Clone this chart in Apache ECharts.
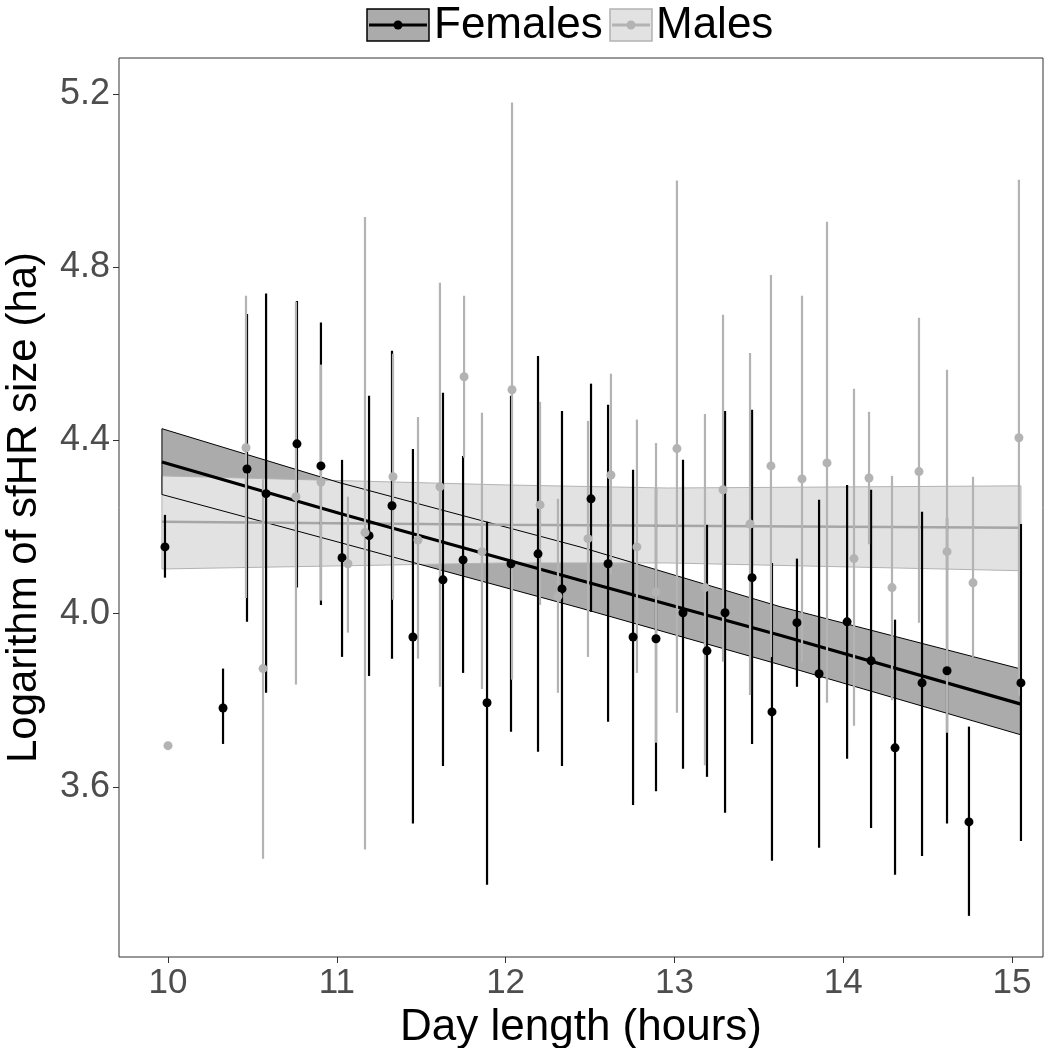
<!DOCTYPE html>
<html><head><meta charset="utf-8">
<script src="https://cdn.jsdelivr.net/npm/echarts@6/dist/echarts.min.js"></script>
<style>html,body{margin:0;padding:0;background:#fff}#c{width:1048px;height:1048px}</style>
</head><body><div id="c"></div>
<script>
// ---- Females (black) ----
const femaleX  = [9.982,10.326,10.468,10.581,10.764,10.906,11.031,11.191,11.327,11.451,11.629,11.748,11.890,12.032,12.192,12.334,12.506,12.607,12.755,12.891,13.051,13.193,13.300,13.460,13.578,13.726,13.857,14.023,14.165,14.307,14.467,14.615,14.745,15.053];
const femaleY  = [4.154,3.782,4.334,4.277,4.392,4.341,4.129,4.18,4.249,3.946,4.078,4.124,3.794,4.115,4.138,4.057,4.265,4.115,3.946,3.942,4.002,3.914,4.002,4.083,3.773,3.979,3.861,3.981,3.891,3.69,3.84,3.868,3.519,3.84];
const femaleLo = [4.083,3.699,3.981,3.817,4.06,4.02,3.9,3.856,3.896,3.515,3.648,3.863,3.374,3.727,3.681,3.648,4.004,3.75,3.558,3.59,3.642,3.623,3.54,3.699,3.429,3.831,3.459,3.665,3.505,3.397,3.44,3.515,3.302,3.475];
const femaleHi = [4.228,3.873,4.692,4.739,4.722,4.672,4.355,4.503,4.607,4.38,4.51,4.364,4.212,4.503,4.595,4.468,4.531,4.482,4.332,4.29,4.355,4.205,4.468,4.471,4.117,4.127,4.263,4.297,4.286,3.986,4.235,4.221,3.739,4.207];
// ---- Males (grey) ----
const maleX  = [10.0,10.462,10.563,10.758,10.906,11.066,11.167,11.333,11.481,11.611,11.754,11.860,12.038,12.204,12.310,12.488,12.624,12.778,12.891,13.015,13.181,13.288,13.448,13.572,13.756,13.904,14.064,14.153,14.289,14.449,14.615,14.769,15.041];
const maleY  = [3.695,4.383,3.873,4.27,4.304,4.115,4.187,4.316,4.17,4.293,4.547,4.143,4.517,4.251,4.04,4.173,4.32,4.154,4.05,4.381,4.06,4.286,4.207,4.341,4.311,4.348,4.127,4.313,4.06,4.328,4.143,4.071,4.406];
const maleLo = [3.695,4.036,3.434,3.836,4.03,3.956,3.455,4.032,3.896,3.831,4.36,3.826,3.847,4.02,3.817,3.9,4.09,3.863,3.702,3.771,3.65,3.889,3.812,3.9,3.888,3.794,3.741,4.16,3.8,3.979,3.725,3.9,3.81];
const maleHi = [3.695,4.734,4.31,4.72,4.575,4.27,4.916,4.60,4.454,4.764,4.734,4.464,5.18,4.489,4.265,4.445,4.554,4.448,4.394,5.0,4.461,4.69,4.602,4.782,4.734,4.905,4.519,4.466,4.318,4.683,4.563,4.316,5.002];
// ---- Fitted lines and confidence ribbons ----
const fitFX  = [9.964,11.019,12.441,13.626,15.053];
const fitF   = [4.350,4.231,4.077,3.950,3.791];
const fitFLo = [4.275,4.164,4.013,3.882,3.720];
const fitFHi = [4.427,4.302,4.154,4.016,3.872];
const fitMX  = [9.964,12.006,12.959,15.053];
const fitM   = [4.212,4.205,4.203,4.198];
const fitMLo = [4.103,4.117,4.117,4.099];
const fitMHi = [4.318,4.297,4.290,4.295];
// ---- ticks ----
const xTicks = [10,11,12,13,14,15];
const yTicks = [3.6,4.0,4.4,4.8,5.2];

const BLACK = '#000000', GREY = '#b3b3b3', DARKFILL = '#ababab', LIGHTFILL = '#e2e2e2';
const FONT = '"Liberation Sans", Arial, sans-serif';

function ribbon(xs, lo, hi, fill, stroke, z) {
  return {
    type: 'custom', z: z, silent: true, clip: true,
    data: [[xs[0], lo[0]]], encode: {x: 0, y: 1},
    renderItem: function (params, api) {
      const pts = [];
      for (let i = 0; i < xs.length; i++) pts.push(api.coord([xs[i], hi[i]]));
      for (let i = xs.length - 1; i >= 0; i--) pts.push(api.coord([xs[i], lo[i]]));
      return {type: 'polygon', shape: {points: pts},
        style: {fill: fill, stroke: stroke, lineWidth: 1}};
    }
  };
}
function bars(xs, lo, hi, color, z) {
  return {
    type: 'custom', z: z, silent: true, clip: true,
    data: xs.map((x, i) => [x, lo[i], hi[i]]), encode: {x: 0, y: [1, 2]},
    renderItem: function (params, api) {
      const a = api.coord([api.value(0), api.value(1)]);
      const b = api.coord([api.value(0), api.value(2)]);
      return {type: 'line', shape: {x1: a[0], y1: a[1], x2: b[0], y2: b[1]},
        style: {stroke: color, lineWidth: 2.2}};
    }
  };
}
function line(xs, ys, color, w, z) {
  return {type: 'line', z: z, silent: true, showSymbol: false, symbol: 'none',
    data: xs.map((x, i) => [x, ys[i]]), lineStyle: {color: color, width: w}};
}
function pts(xs, ys, color, z) {
  return {type: 'scatter', z: z, silent: true, symbolSize: 9,
    data: xs.map((x, i) => [x, ys[i]]), itemStyle: {color: color, opacity: 1}};
}

const chart = echarts.init(document.getElementById('c'), null, {renderer: 'canvas'});
chart.setOption({
  animation: false,
  backgroundColor: '#ffffff',
  grid: {left: 119, right: 5, top: 58, bottom: 91, show: true, borderColor: '#333333', borderWidth: 1,
    containLabel: false, outerBoundsMode: 'none'},
  xAxis: {
    type: 'value', min: 9.7097, max: 15.1836,
    axisLine: {show: false},
    splitLine: {show: false},
    axisTick: {show: true, customValues: xTicks, length: 6, lineStyle: {color: '#333333', width: 1}},
    axisLabel: {show: true, customValues: xTicks, color: '#4d4d4d', fontSize: 35, fontFamily: FONT, margin: 9},
    name: 'Day length (hours)', nameLocation: 'middle', nameGap: 40,
    nameTextStyle: {color: '#000', fontSize: 44, fontFamily: FONT}
  },
  yAxis: {
    type: 'value', min: 3.207, max: 5.283,
    axisLine: {show: false},
    splitLine: {show: false},
    axisTick: {show: true, customValues: yTicks, length: 6, lineStyle: {color: '#333333', width: 1}},
    axisLabel: {show: true, customValues: yTicks, color: '#4d4d4d', fontSize: 36, fontFamily: FONT, margin: 9,
      formatter: v => Number(v).toFixed(1)},
    name: 'Logarithm of sfHR size (ha)', nameLocation: 'middle', nameGap: 74, nameRotate: 90,
    nameTextStyle: {color: '#000', fontSize: 42, fontFamily: FONT}
  },
  graphic: [
    {type: 'rect', shape: {x: 367, y: 9, width: 62, height: 32}, style: {fill: DARKFILL, stroke: '#000', lineWidth: 1.5}, z: 100},
    {type: 'line', shape: {x1: 369, y1: 25, x2: 427, y2: 25}, style: {stroke: '#000', lineWidth: 3}, z: 101},
    {type: 'circle', shape: {cx: 398, cy: 25, r: 4.5}, style: {fill: '#000'}, z: 102},
    {type: 'text', style: {x: 434, y: 26, text: 'Females', fill: '#000', font: '44px ' + FONT, textVerticalAlign: 'middle'}, z: 101},
    {type: 'rect', shape: {x: 610, y: 9, width: 42, height: 32}, style: {fill: LIGHTFILL, stroke: GREY, lineWidth: 1.5}, z: 100},
    {type: 'line', shape: {x1: 612, y1: 25, x2: 650, y2: 25}, style: {stroke: GREY, lineWidth: 3}, z: 101},
    {type: 'circle', shape: {cx: 631, cy: 25, r: 4.5}, style: {fill: GREY}, z: 102},
    {type: 'text', style: {x: 656, y: 26, text: 'Males', fill: '#000', font: '44px ' + FONT, textVerticalAlign: 'middle'}, z: 101}
  ],
  series: [
    ribbon(fitFX, fitFLo, fitFHi, DARKFILL, 'none', 1),
    ribbon(fitMX, fitMLo, fitMHi, LIGHTFILL, GREY, 2),
    ribbon(fitFX, fitFLo, fitFHi, 'none', '#000000', 3),
    line(fitMX, fitM, '#a6a6a6', 2.5, 4),
    line(fitFX, fitF, BLACK, 3.2, 4),
    bars(femaleX, femaleLo, femaleHi, BLACK, 5),
    bars(maleX, maleLo, maleHi, GREY, 6),
    pts(femaleX, femaleY, BLACK, 7),
    pts(maleX, maleY, GREY, 8)
  ]
});
</script></body></html>
